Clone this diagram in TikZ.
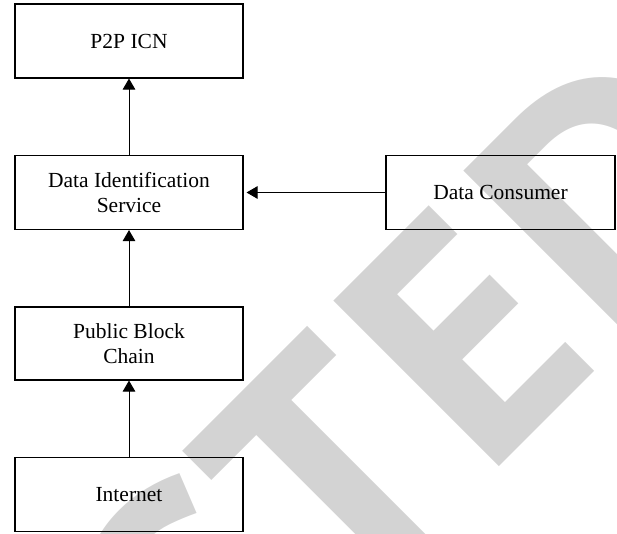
\documentclass[tikz,border=0pt]{standalone}
\usepackage{fontspec}
\setmainfont{Liberation Serif}
\newfontfamily\wmfont{Open Sans}
\usetikzlibrary{arrows.meta,calc}
\definecolor{wmgray}{RGB}{211,211,211}
\newcommand\wmtext{\wmfont\bfseries\fontsize{328}{330}\selectfont}
\tikzset{
  box/.style={draw=black, line width=1.1pt, minimum width=228pt, minimum height=74pt,
    inner sep=0pt, align=center, font=\fontsize{21.5}{25.5}\selectfont},
  link/.style={draw=black, line width=1pt, -{Triangle[width=12.5pt,length=11pt]}},
  wmark/.style={rotate=45, inner sep=0pt, outer sep=0pt}
}
\begin{document}
\begin{tikzpicture}[x=1pt,y=1pt]
\useasboundingbox (0,0) rectangle (617,533);
% watermark
\begin{scope}
\clip (0,0) rectangle (617,533);
\node[wmark, anchor=base east] (wmref) at (499.3,67) {\phantom{\wmtext RETRACT}\hspace*{29.5pt}};
\node[wmark, anchor=base west, text=wmgray] (wm) at (wmref.base west) {\wmtext RETRACTED};
\end{scope}
% boxes
\node[box] (p2p) at (129,492) {P2P ICN};
\node[box] (dis) at (129,340.5) {Data Identification\\Service};
\node[box, minimum width=229pt] (dc) at (500.5,340.5) {Data Consumer};
\node[box, minimum height=73pt] (pbc) at (129,189.5) {Public Block\\Chain};
\node[box] (inet) at (129,38.5) {Internet};
% connectors
\draw[link] (dis) -- (p2p);
\draw[link] (pbc) -- (dis);
\draw[link] (inet) -- (pbc);
\draw[link, shorten >=3pt] (dc) -- (dis);
\end{tikzpicture}
\end{document}
